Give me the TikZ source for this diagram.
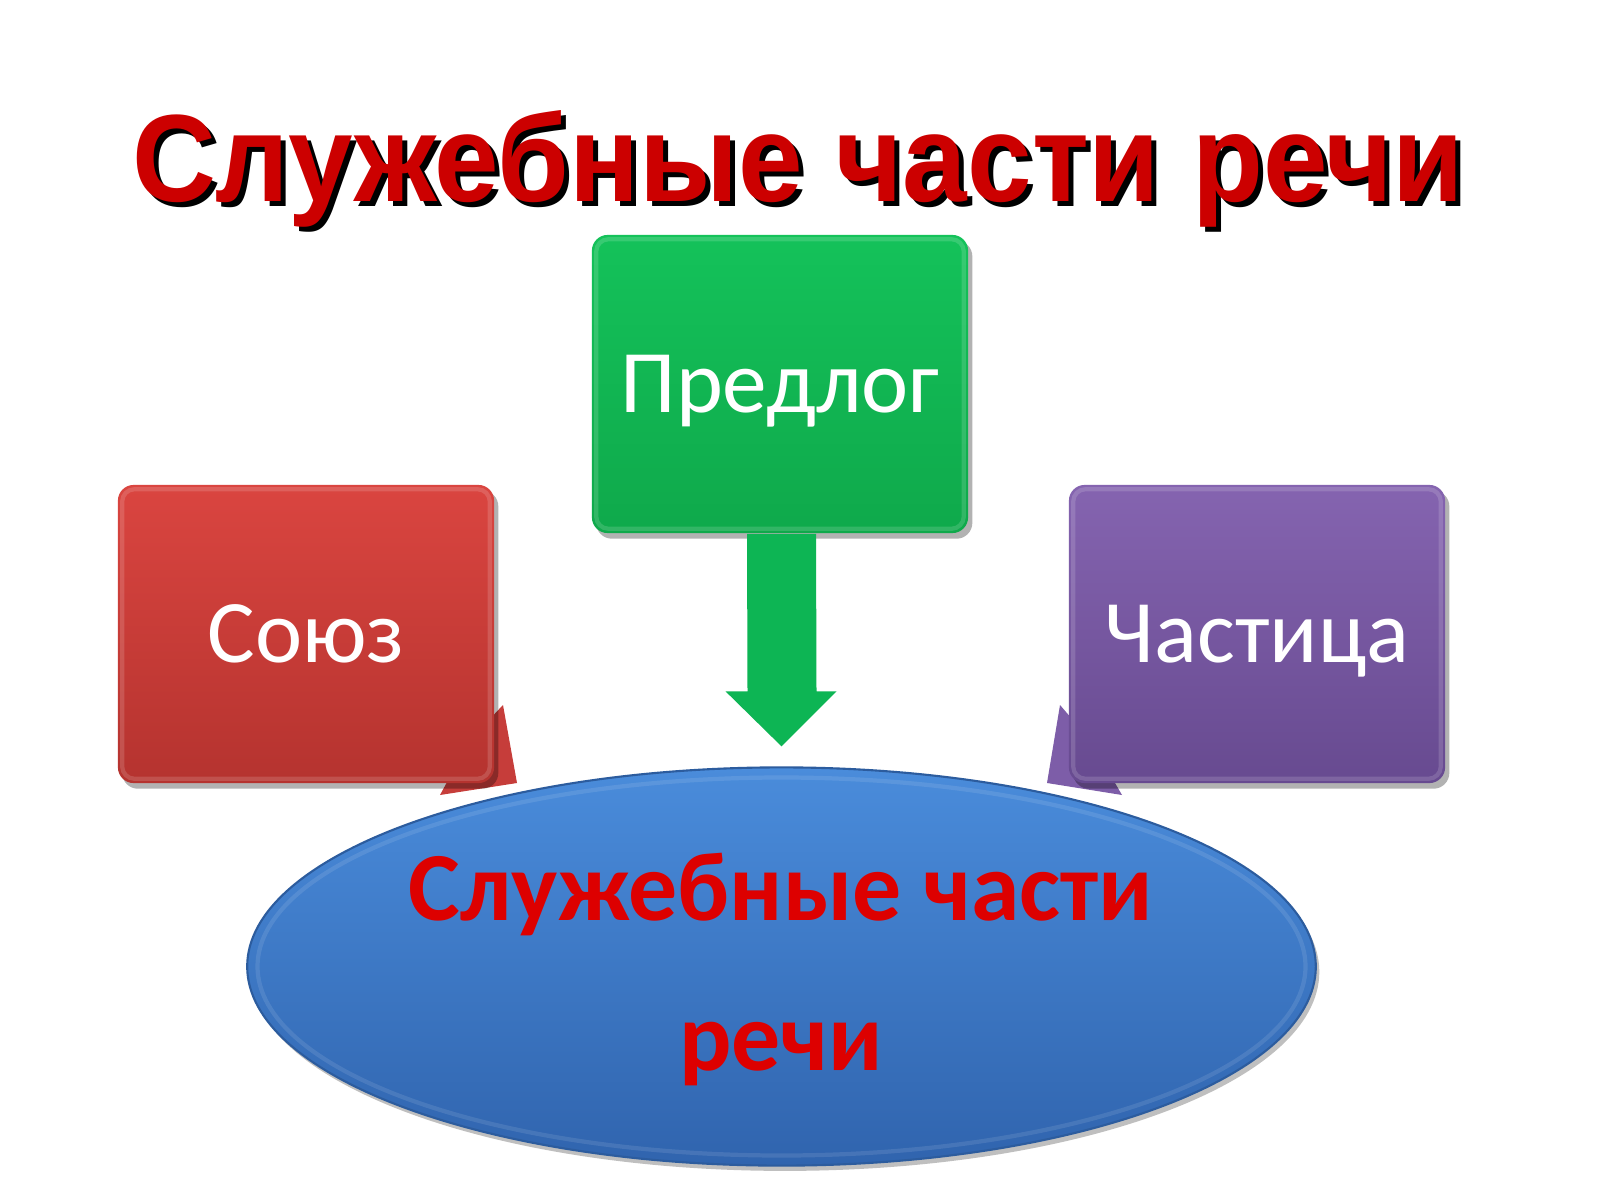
\documentclass[tikz,border=0pt]{standalone}
\usepackage{fontspec}
\setmainfont{Carlito}
\newfontfamily\titlefont[FakeStretch=0.935]{Liberation Sans}
\usetikzlibrary{shadows,shapes.geometric,calc}
\definecolor{titlered}{HTML}{CC0000}
\definecolor{redtop}{HTML}{DA4540}
\definecolor{redbot}{HTML}{B5332F}
\definecolor{redtri}{HTML}{C63D3A}
\definecolor{grntop}{HTML}{14C25A}
\definecolor{grnbot}{HTML}{0FA94B}
\definecolor{grnarrow}{HTML}{0DB554}
\definecolor{purtop}{HTML}{8564B0}
\definecolor{purbot}{HTML}{674A90}
\definecolor{purtri}{HTML}{7D5DA8}
\definecolor{bluetop}{HTML}{4A8CDB}
\definecolor{bluebot}{HTML}{3064AE}
\definecolor{blueedge}{HTML}{2C5C9E}
\definecolor{etextred}{HTML}{DD0000}
\begin{document}
\begin{tikzpicture}[x=0.01cm,y=-0.01cm,
  boxstyle/.style={rectangle, rounded corners=4.5pt, minimum width=3.76cm, minimum height=2.98cm,
    inner sep=0pt, text=white, font=\fontsize{25.4}{30}\selectfont, text height=16.4pt, text depth=0pt,
    drop shadow={shadow xshift=1.2pt, shadow yshift=-1.6pt, opacity=0.3, fill=black}},
  rim/.style={draw=white, draw opacity=0.15, line width=1.2pt, rounded corners=3.5pt},
  etext/.style={font=\bfseries\fontsize{27.8}{30}\selectfont, text=etextred, inner sep=0pt},
  ttext/.style={font=\titlefont\bfseries\fontsize{35.3}{40}\selectfont, inner sep=0pt}
]
\useasboundingbox (0,0) rectangle (1600,1200);
\fill[white] (0,0) rectangle (1600,1200);

% title with shadow
\node[ttext, anchor=base, text=black] (tshadow) at (803,206) {Служебные части речи};
\node[ttext, anchor=base, text=titlered] (title) at (798,201) {Служебные части речи};

% small arrow tips behind the side boxes
\fill[redtri] (440,795) -- (517,783) -- (503,705) -- (470,740) -- cycle;
\fill[purtri] (1122,795) -- (1047,783) -- (1060,705) -- (1090,740) -- cycle;

% boxes
\node[boxstyle, top color=redtop, bottom color=redbot] (soyuz) at (306,634) {Союз};
\node[boxstyle, top color=purtop, bottom color=purbot] (chast) at (1257,634) {Частица};
\node[boxstyle, top color=grntop, bottom color=grnbot] (pred) at (780,384) {Предлог};
\foreach \b in {soyuz,chast,pred}
  \path[rim] ([shift={(5,5)}]\b.north west) rectangle ([shift={(-5,-5)}]\b.south east);

% ellipse
\node[ellipse, minimum width=10.68cm, minimum height=3.98cm, inner sep=0pt,
  top color=bluetop, bottom color=bluebot, draw=blueedge, line width=0.6pt,
  drop shadow={shadow xshift=1pt, shadow yshift=-1.5pt, opacity=0.25, fill=black}] (ell) at (781.5,966.5) {};
\draw[white, opacity=0.1, line width=1.2pt] (ell.center) ellipse [x radius=524, y radius=189];
\node[etext, anchor=base] (l1) at (781,920) {Служебные части};
\node[etext, anchor=base] (l2) at (781,1070) {речи};

% block arrow from Предлог to the ellipse
\coordinate (tip) at ($(ell.north)+(0,-20)$);
\fill[grnarrow] ($(pred.south)+(-33,0)$) -- ($(pred.south)+(36,0)$) -- ($(tip)+(35,-55)$)
  -- ($(tip)+(55,-55)$) -- (tip) -- ($(tip)+(-56,-55)$) -- ($(tip)+(-34,-55)$) -- cycle;
\end{tikzpicture}
\end{document}
